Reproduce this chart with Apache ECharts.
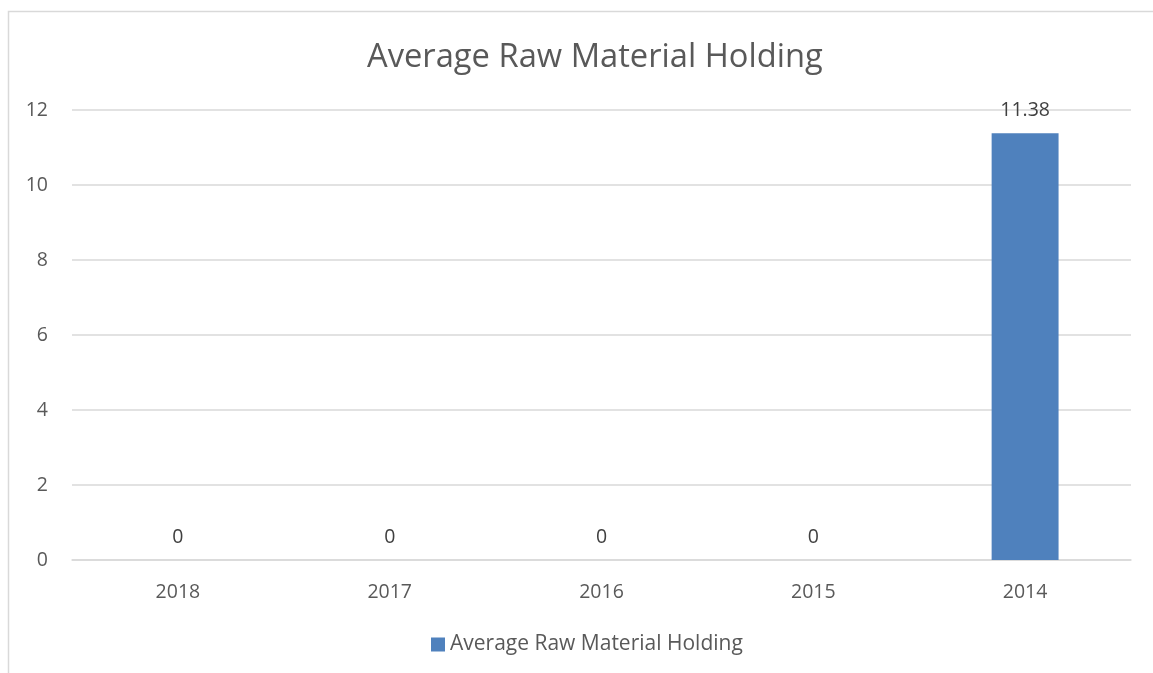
<!DOCTYPE html>
<html>
<head>
<meta charset="utf-8">
<script src="https://cdn.jsdelivr.net/npm/echarts@6/dist/echarts.min.js"></script>
<style>
    html, body { margin: 0; padding: 0; background: #fff; }
    #chart { width: 1153px; height: 673px; }
</style>
</head>
<body>
<div id="chart"></div>
<script>
// data
const years = ['2018', '2017', '2016', '2015', '2014']
const holding = [0, 0, 0, 0, 11.38]
const seriesName = 'Average Raw Material Holding'

const chart = echarts.init(document.getElementById('chart'))
const font = 'Open Sans'

chart.setOption({
    animation: false,
    textStyle: { fontFamily: font },
    // title and legend are centred on the (wider) frame, not the window
    title: {
        text: seriesName,
        left: 362,
        top: 36,
        textStyle: { fontSize: 32.7, fontWeight: 'normal', color: '#595959', fontFamily: font }
    },
    // chart area frame
    graphic: [{
        type: 'rect',
        shape: { x: 8.5, y: 11.5, width: 1160, height: 700 },
        style: { fill: 'none', stroke: '#d9d9d9', lineWidth: 1.5 },
        silent: true
    }],
    grid: { left: 72, right: 22, top: 110, bottom: 113 },
    legend: {
        bottom: 13,
        left: 426,
        icon: 'rect',
        itemWidth: 14,
        itemHeight: 14,
        itemGap: 6,
        textStyle: { fontSize: 21, color: '#595959', fontFamily: font }
    },
    xAxis: {
        type: 'category',
        data: years,
        axisLine: { lineStyle: { color: '#d9d9d9', width: 1.5 } },
        axisTick: { show: false },
        axisLabel: { fontSize: 19.5, color: '#595959', margin: 22 }
    },
    yAxis: {
        type: 'value',
        min: 0,
        max: 12,
        interval: 2,
        axisLine: { show: false },
        axisTick: { show: false },
        splitLine: { lineStyle: { color: '#d9d9d9', width: 1.5 } },
        axisLabel: { fontSize: 19.5, color: '#595959', margin: 24 }
    },
    series: [{
        name: seriesName,
        type: 'bar',
        data: holding,
        barWidth: '31.6%',
        itemStyle: { color: '#4f81bd' },
        label: {
            show: true,
            position: 'top',
            distance: 13,
            fontSize: 19.5,
            color: '#404040'
        }
    }]
})
</script>
</body>
</html>
